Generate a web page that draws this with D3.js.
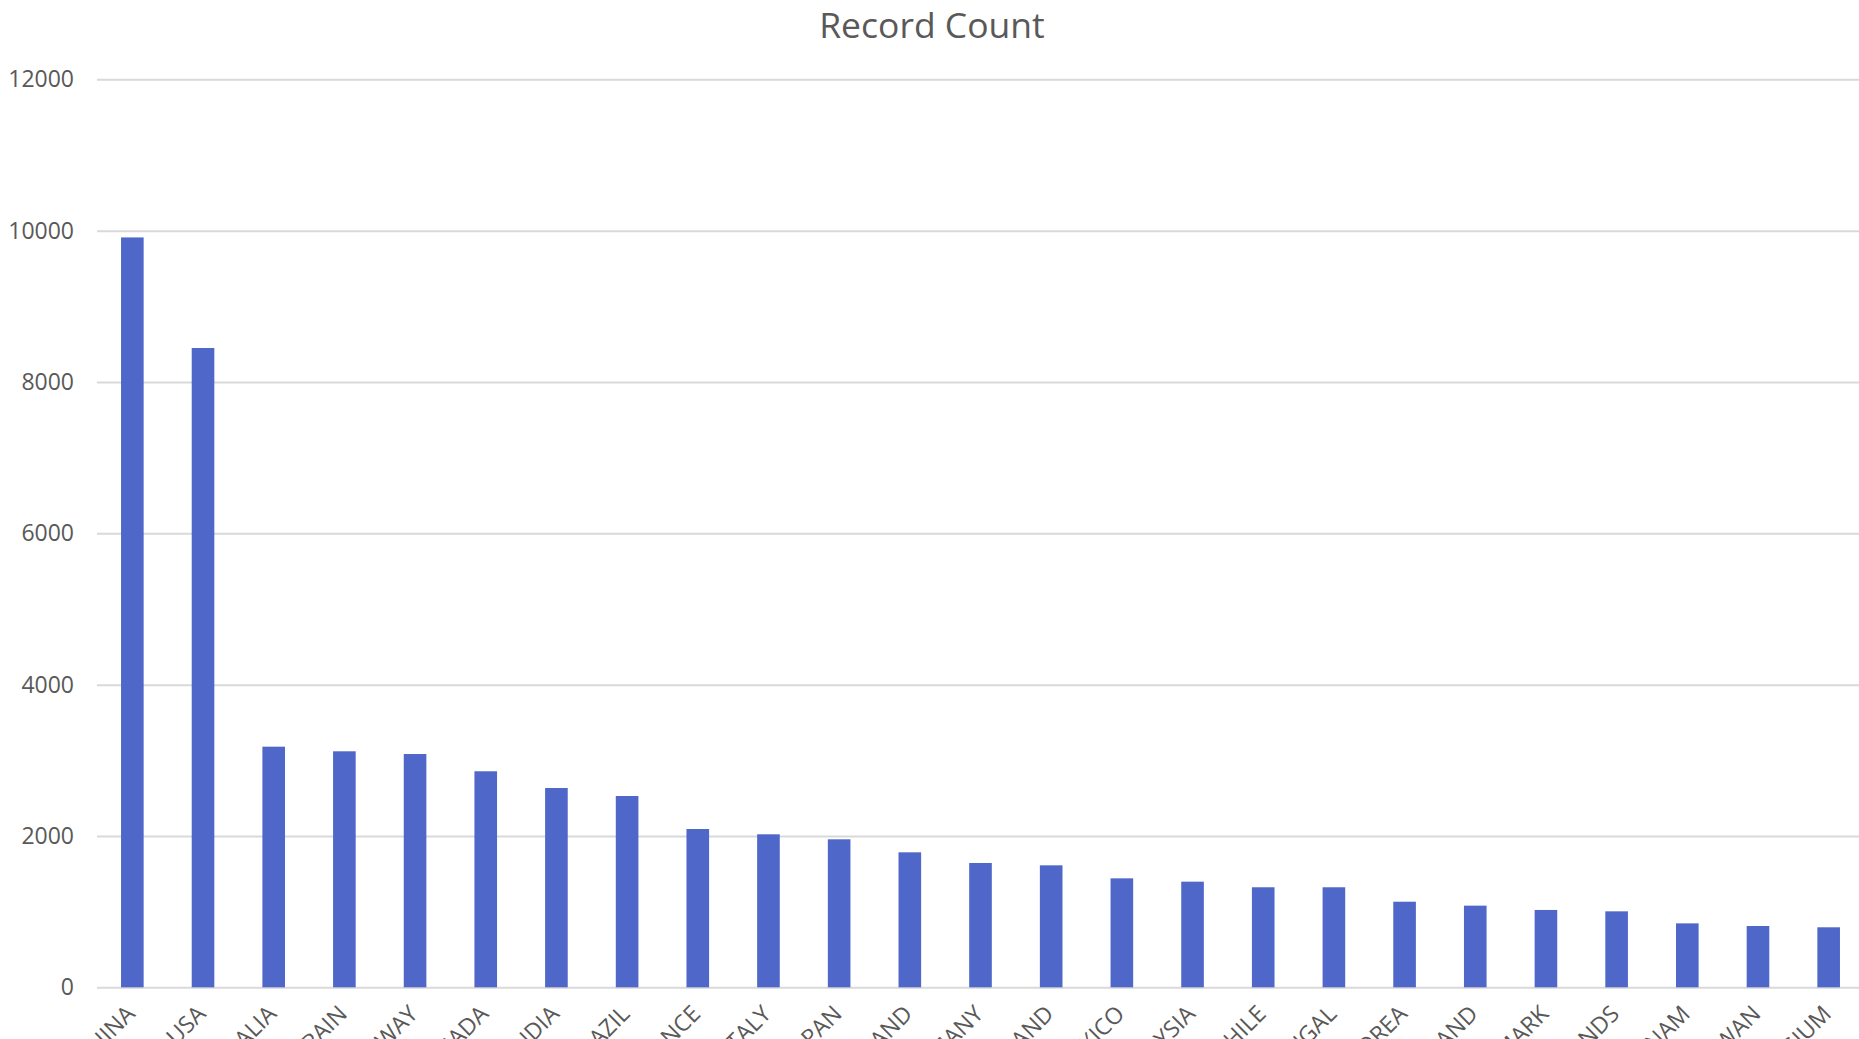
<!DOCTYPE html>
<html>
<head>
<meta charset="utf-8">
<script src="https://cdn.jsdelivr.net/npm/d3@7"></script>
<style>
  html, body { margin: 0; padding: 0; background: #ffffff; overflow: hidden; }
  svg { display: block; }
  text { font-family: "Open Sans", "Noto Sans", sans-serif; fill: #595959; }
</style>
</head>
<body>
<svg id="chart" width="1859" height="1039"></svg>
<script>
// Records per country
const countries = [
  "CHINA", "USA", "AUSTRALIA", "SPAIN", "NORWAY", "CANADA", "INDIA", "BRAZIL",
  "FRANCE", "ITALY", "JAPAN", "ENGLAND", "GERMANY", "SCOTLAND", "MEXICO",
  "MALAYSIA", "CHILE", "PORTUGAL", "SOUTH KOREA", "NEW ZEALAND", "DENMARK",
  "NETHERLANDS", "VIETNAM", "TAIWAN", "BELGIUM"
];
const recordCounts = [
  9910, 8449, 3180, 3119, 3083, 2855, 2634, 2528,
  2092, 2022, 1956, 1784, 1643, 1612, 1440,
  1396, 1322, 1322, 1131, 1079, 1022,
  1004, 845, 810, 793
];
const yTicks = [0, 2000, 4000, 6000, 8000, 10000, 12000];
const chartTitle = "Record Count";

const svg = d3.select("#chart");
const plot = { left: 97, right: 1864, top: 79.3, bottom: 987.3 };

const x = d3.scaleBand()
  .domain(countries)
  .range([plot.left, plot.right])
  .paddingInner(0.68)
  .paddingOuter(0.34);

const y = d3.scaleLinear()
  .domain([0, 12000])
  .range([plot.bottom, plot.top]);

// Title, centred on the full chart area
svg.append("text")
  .attr("x", plot.right / 2)
  .attr("y", 37.5)
  .attr("text-anchor", "middle")
  .style("font-size", "35.5px")
  .text(chartTitle);

// Horizontal gridlines with value labels
const yAxis = d3.axisLeft(y)
  .tickValues(yTicks)
  .tickSize(-(plot.right - plot.left))
  .tickPadding(23)
  .tickFormat(d3.format("d"));

const gy = svg.append("g")
  .attr("transform", `translate(${plot.left},0)`)
  .call(yAxis);
gy.select(".domain").remove();
gy.selectAll(".tick line")
  .attr("stroke", "#d9d9d9")
  .attr("stroke-width", 2);
gy.selectAll(".tick text")
  .attr("fill", "#595959")
  .style("font-size", "23px")
  .style("font-family", "\"Open Sans\", \"Noto Sans\", sans-serif");

// Bars
svg.append("g")
  .selectAll("rect")
  .data(countries.map((c, i) => ({ country: c, value: recordCounts[i] })))
  .join("rect")
  .attr("x", d => x(d.country))
  .attr("y", d => y(d.value))
  .attr("width", x.bandwidth())
  .attr("height", d => y(0) - y(d.value))
  .attr("fill", "#4f67c8");

// Category labels, rotated
const xAxis = d3.axisBottom(x).tickSize(0).tickPadding(0);
const gx = svg.append("g")
  .attr("transform", `translate(0,${plot.bottom})`)
  .call(xAxis);
gx.select(".domain").remove();
gx.selectAll(".tick text")
  .attr("fill", "#595959")
  .attr("text-anchor", "end")
  .attr("dy", null)
  .attr("y", null)
  .attr("transform", "translate(4,28) rotate(-45)")
  .style("font-size", "23px")
  .style("font-family", "\"Open Sans\", \"Noto Sans\", sans-serif");
</script>
</body>
</html>
